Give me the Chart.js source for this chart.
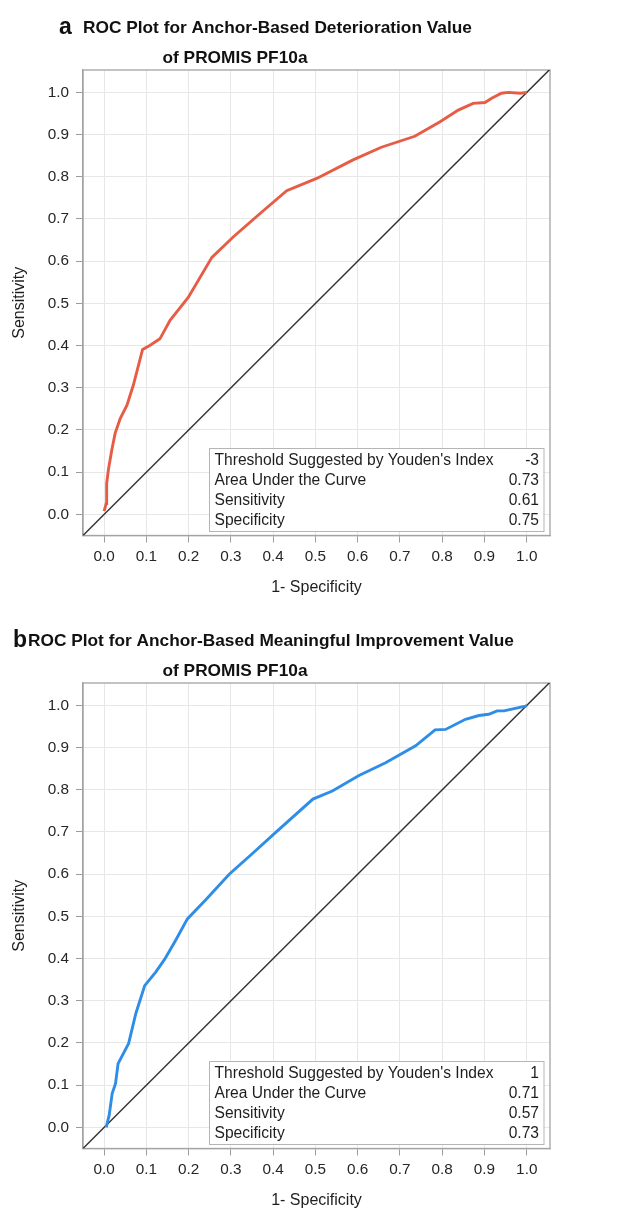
<!DOCTYPE html>
<html>
<head>
<meta charset="utf-8">
<script src="https://cdn.jsdelivr.net/npm/chart.js@4.4.1/dist/chart.umd.min.js"></script>
<style>
  body { margin: 0; background: #fff; }
  .panel { position: absolute; left: 0; width: 619px; height: 600px; }
  #panelA { top: 0; }
  #panelB { top: 613px; }
</style>
</head>
<body>
<div class="panel" id="panelA"><canvas id="rocA" width="619" height="600"></canvas></div>
<div class="panel" id="panelB"><canvas id="rocB" width="619" height="600"></canvas></div>
<script>
// 軸の目盛り (両軸共通)
const axisTicks = [0, 0.1, 0.2, 0.3, 0.4, 0.5, 0.6, 0.7, 0.8, 0.9, 1.0];

// 参照線 (y = x)
const diagonalX = [-0.05, 1.055];
const diagonalY = [-0.05, 1.055];

// a: Deterioration の ROC 曲線 (1-特異度, 感度)
const deteriorationFpr = [0, 0.005, 0.006, 0.010, 0.018, 0.026, 0.038, 0.054, 0.069, 0.091, 0.109, 0.132, 0.156, 0.199, 0.255, 0.306, 0.369, 0.432, 0.503, 0.589, 0.656, 0.735, 0.794, 0.838, 0.873, 0.901, 0.917, 0.940, 0.956, 0.985, 1.0];
const deteriorationTpr = [0.008, 0.026, 0.073, 0.105, 0.152, 0.192, 0.227, 0.259, 0.306, 0.391, 0.401, 0.416, 0.460, 0.514, 0.609, 0.658, 0.713, 0.767, 0.796, 0.840, 0.870, 0.896, 0.930, 0.958, 0.974, 0.976, 0.986, 0.998, 1.0, 0.998, 1.0];

// b: Meaningful Improvement の ROC 曲線
const improvementFpr = [0.005, 0.008, 0.012, 0.019, 0.027, 0.033, 0.058, 0.075, 0.096, 0.122, 0.143, 0.169, 0.197, 0.240, 0.296, 0.351, 0.406, 0.494, 0.540, 0.603, 0.666, 0.737, 0.783, 0.808, 0.855, 0.887, 0.910, 0.930, 0.946, 0.997, 1.0];
const improvementTpr = [0.0, 0.013, 0.029, 0.080, 0.104, 0.151, 0.199, 0.270, 0.336, 0.368, 0.398, 0.443, 0.494, 0.539, 0.600, 0.649, 0.699, 0.778, 0.797, 0.834, 0.864, 0.904, 0.942, 0.943, 0.967, 0.976, 0.979, 0.987, 0.987, 0.998, 1.0];

// 統計量の表
const statLabels = ["Threshold Suggested by Youden's Index", 'Area Under the Curve', 'Sensitivity', 'Specificity'];
const deteriorationStats = ['-3', '0.73', '0.61', '0.75'];
const improvementStats = ['1', '0.71', '0.57', '0.73'];

const FONT = "'Liberation Sans', Arial, sans-serif";

/**
 * x/y 配列を点の配列にまとめる
 */
function toPoints(xs, ys) {
    return xs.map((x, i) => ({ x, y: ys[i] }));
}

// プロット枠 (上・右も含めて囲む)
const framePlugin = {
    id: 'frame',
    beforeDatasetsDraw(chart) {
        const { ctx, chartArea: a } = chart;
        ctx.save();
        ctx.strokeStyle = '#a3a3a3';
        ctx.lineWidth = 1.3;
        ctx.strokeRect(a.left, a.top, a.right - a.left, a.bottom - a.top);
        ctx.restore();
    }
};

// 右下の統計量ボックス
const statBoxPlugin = {
    id: 'statBox',
    afterDatasetsDraw(chart, args, opts) {
        const { ctx, chartArea: a } = chart;
        const w = 334.5, h = 83;
        const right = a.right - 6.5, bottom = a.bottom - 4.5;
        const left = right - w, top = bottom - h;
        ctx.save();
        ctx.fillStyle = '#fff';
        ctx.fillRect(left, top, w, h);
        ctx.strokeStyle = '#b5b5b5';
        ctx.lineWidth = 1;
        ctx.strokeRect(left + 0.5, top + 0.5, w, h);
        ctx.font = '15.6px ' + FONT;
        ctx.fillStyle = '#1e1e1e';
        ctx.textBaseline = 'alphabetic';
        statLabels.forEach((label, i) => {
            const y = top + 16.9 + i * 20.1;
            ctx.textAlign = 'left';
            ctx.fillText(label, left + 5.5, y);
            ctx.textAlign = 'right';
            ctx.fillText(opts.values[i], right - 4.5, y);
        });
        ctx.restore();
    }
};

// パネル見出し (a / b + 2行タイトル)
const headingPlugin = {
    id: 'heading',
    afterDraw(chart, args, opts) {
        const { ctx } = chart;
        ctx.save();
        ctx.fillStyle = '#111';
        ctx.textBaseline = 'alphabetic';
        ctx.textAlign = 'left';
        ctx.font = 'bold 23px ' + FONT;
        ctx.fillText(opts.letter, opts.letterX, 33.5);
        ctx.font = 'bold 17.3px ' + FONT;
        ctx.fillText(opts.lines[0], opts.lineX, 33.3);
        ctx.fillText(opts.lines[1], 162.5, 62.5);
        ctx.restore();
    }
};

function buildScales() {
    const grid = { color: '#e7e7e7', tickColor: '#9d9d9d', tickLength: 7, lineWidth: 1 };
    const border = { color: '#a3a3a3', width: 1.3 };
    const tickFont = { family: FONT, size: 15.3 };
    const titleFont = { family: FONT, size: 16 };
    return {
        x: {
            type: 'linear', min: -0.05, max: 1.055,
            afterBuildTicks: s => { s.ticks = axisTicks.map(v => ({ value: v })); },
            afterFit: s => { s.height = 64.5; },
            ticks: { callback: v => v.toFixed(1), color: '#262626', font: tickFont, padding: 5, maxRotation: 0, autoSkip: false },
            grid, border,
            title: { display: true, text: '1- Specificity', color: '#1e1e1e', font: titleFont, padding: { top: 0, bottom: 3 } }
        },
        y: {
            type: 'linear', min: -0.05, max: 1.053,
            afterBuildTicks: s => { s.ticks = axisTicks.map(v => ({ value: v })); },
            afterFit: s => { s.width = 83; },
            ticks: { callback: v => v.toFixed(1), color: '#262626', font: tickFont, padding: 7, autoSkip: false },
            grid, border,
            title: { display: true, text: 'Sensitivity', color: '#1e1e1e', font: titleFont, padding: { top: 10, bottom: 0 } }
        }
    };
}

function createRocChart(canvasId, fpr, tpr, color, stats, heading) {
    const ctx = document.getElementById(canvasId).getContext('2d');
    return new Chart(ctx, {
        type: 'scatter',
        data: {
            datasets: [
                {
                    label: 'ROC',
                    data: toPoints(fpr, tpr),
                    showLine: true,
                    borderColor: color,
                    borderWidth: 2.9,
                    pointRadius: 0,
                    tension: 0,
                    order: 1
                },
                {
                    label: 'reference',
                    data: toPoints(diagonalX, diagonalY),
                    showLine: true,
                    borderColor: '#333',
                    borderWidth: 1.4,
                    pointRadius: 0,
                    order: 2
                }
            ]
        },
        options: {
            responsive: false,
            animation: false,
            devicePixelRatio: 1,
            layout: { padding: { left: 0, top: 70, right: 69, bottom: 0 } },
            scales: buildScales(),
            plugins: {
                legend: { display: false },
                tooltip: { enabled: false },
                statBox: { values: stats },
                heading
            }
        },
        plugins: [framePlugin, statBoxPlugin, headingPlugin]
    });
}

function main() {
    createRocChart('rocA', deteriorationFpr, deteriorationTpr, '#e65c45', deteriorationStats, {
        letter: 'a', letterX: 59, lineX: 83,
        lines: ['ROC Plot for Anchor-Based Deterioration Value', 'of PROMIS PF10a']
    });
    createRocChart('rocB', improvementFpr, improvementTpr, '#2e8de6', improvementStats, {
        letter: 'b', letterX: 13, lineX: 28,
        lines: ['ROC Plot for Anchor-Based Meaningful Improvement Value', 'of PROMIS PF10a']
    });
}

main();
</script>
</body>
</html>
